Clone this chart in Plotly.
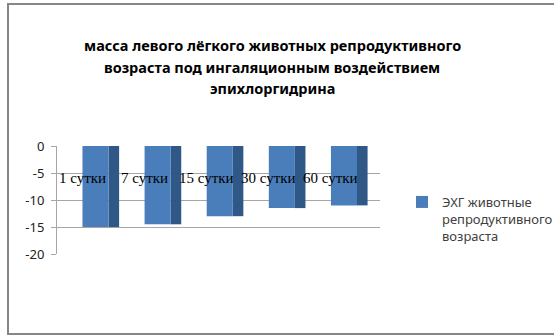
import plotly.graph_objects as go

categories = ["1 сутки", "7 сутки", "15 сутки", "30 сутки", "60 сутки"]
values = [-15.0, -14.5, -13.0, -11.5, -11.0]
series_name = "ЭХГ животные<br>репродуктивного<br>возраста"
y_ticks = [0, -5, -10, -15, -20]
title_lines = ["масса левого лёгкого животных репродуктивного",
               "возраста под ингаляционным воздействием",
               "эпихлоргидрина"]

W, H = 554, 336
L, R, T, B = 57, 0, 146, 82
PW, PH = W - L - R, H - T - B


def px(x):
    return (x - L) / PW


def py(y):
    return (H - B - y) / PH


fig = go.Figure()
# side (shaded) face of the pseudo-3D columns
fig.add_trace(go.Bar(
    x=categories, y=values, width=0.17, offset=0.13,
    marker=dict(color="#2F5886", line=dict(width=0)),
    showlegend=False, hoverinfo="skip",
))
# front face
fig.add_trace(go.Bar(
    x=categories, y=values, width=0.42, offset=-0.29,
    name=series_name,
    marker=dict(color="#4A7EBB", line=dict(width=0)),
))

annotations = []
for i, line in enumerate(title_lines):
    annotations.append(dict(
        text=line, xref="paper", yref="paper", x=px(272), y=py(45 + 21.5 * i),
        xanchor="center", yanchor="middle", showarrow=False,
        font=dict(family="Noto Sans", size=14.5, color="#000000", weight="bold")))
for c in categories:
    annotations.append(dict(
        text=c, x=c, y=-6, xref="x", yref="y", xanchor="center", yanchor="middle",
        xshift=-18, showarrow=False,
        font=dict(family="Liberation Serif", size=15, color="#000000")))

fig.update_layout(
    width=W, height=H,
    margin=dict(l=L, r=R, t=T, b=B, pad=0, autoexpand=False),
    paper_bgcolor="white", plot_bgcolor="white",
    barmode="overlay",
    xaxis=dict(domain=[0, (380 - L) / PW], showticklabels=False, showgrid=False,
               zeroline=False, showline=False, ticks="", range=[-0.7, 4.5]),
    yaxis=dict(range=[-20, 0], tickvals=y_ticks, ticktext=[str(v) for v in y_ticks],
               showgrid=True, gridcolor="#A6A6A6", gridwidth=1, zeroline=False,
               showline=True, linecolor="#A6A6A6", ticks="outside", ticklen=5,
               tickcolor="#A6A6A6", ticklabelstandoff=4, automargin=False,
               tickfont=dict(family="Noto Sans", size=13, color="#222222")),
    legend=dict(x=px(402), y=py(187), xanchor="left", yanchor="top",
                font=dict(family="Noto Sans", size=13, color="#404040"),
                itemwidth=30, valign="top", bgcolor="rgba(0,0,0,0)"),
    showlegend=True,
    annotations=annotations,
    shapes=[
        dict(type="rect", xref="paper", yref="paper",
             x0=px(8), x1=px(560), y0=py(334), y1=py(4),
             line=dict(color="#868686", width=2), fillcolor="rgba(0,0,0,0)", layer="below"),
    ],
)

fig.write_html("out.html", config={"displayModeBar": False},
               post_script="document.body.style.margin='0';document.body.style.overflow='hidden';")
